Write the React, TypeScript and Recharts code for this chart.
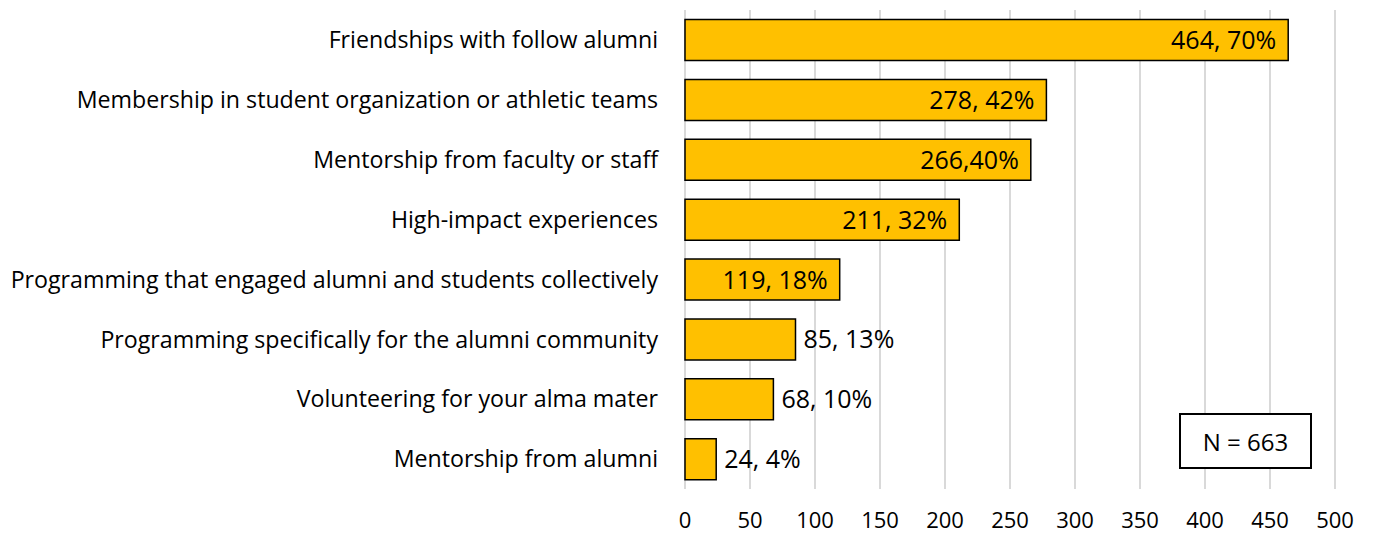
import { BarChart, Bar, XAxis, YAxis, CartesianGrid, LabelList } from "recharts";

const categories = [
  "Friendships with follow alumni",
  "Membership in student organization or athletic teams",
  "Mentorship from faculty or staff",
  "High-impact experiences",
  "Programming that engaged alumni and students collectively",
  "Programming specifically for the alumni community",
  "Volunteering for your alma mater",
  "Mentorship from alumni",
];
const counts = [464, 278, 266, 211, 119, 85, 68, 24];
const labels = ["464, 70%", "278, 42%", "266,40%", "211, 32%", "119, 18%", "85, 13%", "68, 10%", "24, 4%"];
const xTicks = [0, 50, 100, 150, 200, 250, 300, 350, 400, 450, 500];
const sampleNote = "N = 663";

const data = categories.map((name, i) => ({ name, value: counts[i], label: labels[i] }));

const FONT = "'Open Sans', Lato, sans-serif";

// big bars get the label inside the end, short ones right after the bar
const BarLabel = (props: any) => {
  const { x, y, width, height, value, index } = props;
  const inside = counts[index] >= 100;
  const cy = y + height / 2;
  return (
    <text
      x={inside ? x + width - 12 : x + width + 8}
      y={cy}
      dy="0.36em"
      textAnchor={inside ? "end" : "start"}
      fontSize={25}
      fontFamily={FONT}
      fill="#000"
    >
      {value}
    </text>
  );
};

export default function App() {
  return (
    <div style={{ position: "absolute", left: 0, top: 0, width: 1373, height: 535, background: "#fff" }}>
      <BarChart
        width={1373}
        height={535}
        data={data}
        layout="vertical"
        margin={{ top: 10, right: 38, bottom: 0, left: 0 }}
        barCategoryGap="16%"
      >
        <CartesianGrid horizontal={false} stroke="#d9d9d9" strokeWidth={2} />
        <XAxis
          type="number"
          domain={[0, 500]}
          ticks={xTicks}
          axisLine={false}
          tickLine={false}
          tickSize={0}
          tickMargin={23}
          height={46}
          tick={{ fontSize: 22, fontFamily: FONT, fill: "#000" }}
        />
        <YAxis
          type="category"
          dataKey="name"
          width={685}
          axisLine={false}
          tickLine={false}
          tickSize={0}
          tickMargin={27}
          interval={0}
          tick={{ fontSize: 23.2, fontFamily: FONT, fill: "#000" }}
        />
        <Bar dataKey="value" fill="#FFC000" stroke="#000" strokeWidth={1.5} isAnimationActive={false}>
          <LabelList dataKey="label" content={BarLabel} />
        </Bar>
      </BarChart>
      <div
        style={{
          position: "absolute",
          left: 1179,
          top: 413,
          width: 133,
          height: 56,
          boxSizing: "border-box",
          border: "2px solid #000",
          background: "#fff",
          display: "flex",
          alignItems: "center",
          justifyContent: "center",
          fontFamily: FONT,
          fontSize: 24,
        }}
      >
        {sampleNote}
      </div>
    </div>
  );
}
